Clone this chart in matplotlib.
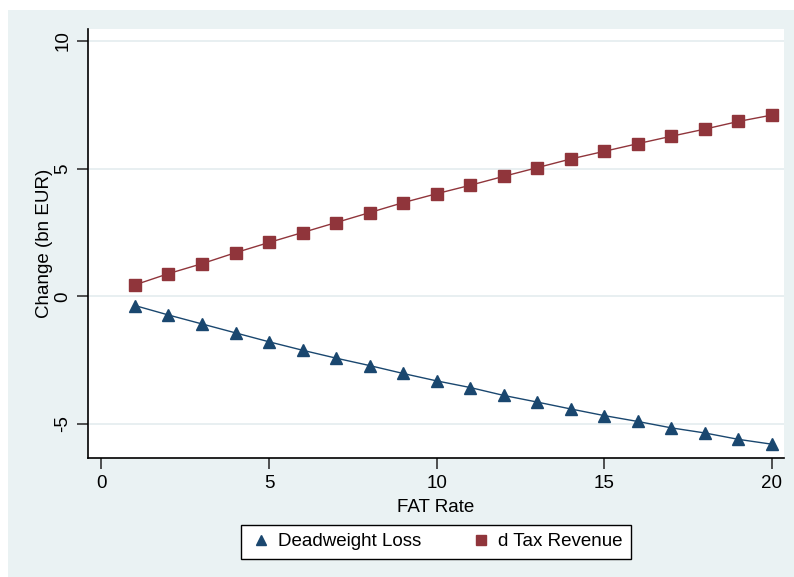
import matplotlib
matplotlib.use("Agg")
import matplotlib.pyplot as plt
from matplotlib.lines import Line2D
from matplotlib.patches import Rectangle

plt.rcParams['font.family'] = ['Liberation Sans', 'DejaVu Sans']

# values
fat_rate = list(range(1, 21))
deadweight_loss = [-0.36, -0.73, -1.08, -1.43, -1.78, -2.11, -2.42, -2.71, -3.02, -3.31,
                   -3.57, -3.88, -4.14, -4.41, -4.67, -4.90, -5.15, -5.35, -5.60, -5.79]
tax_revenue = [0.45, 0.89, 1.28, 1.71, 2.11, 2.50, 2.89, 3.28, 3.67, 4.02,
               4.35, 4.70, 5.04, 5.38, 5.68, 5.98, 6.27, 6.55, 6.85, 7.10]
x_ticks = [0, 5, 10, 15, 20]
y_ticks = [-5, 0, 5, 10]

navy = '#1a476f'
maroon = '#90353b'
bg = '#eaf2f3'

fig = plt.figure(figsize=(7.94, 5.77), dpi=100)
fig.patch.set_facecolor('white')
# stata style graph region (white strip left and top like the crop)
fig.patches.append(Rectangle((8 / 794, 0), 1, 1 - 10 / 577, transform=fig.transFigure,
                             facecolor=bg, edgecolor='none', zorder=-10))

ax = fig.add_axes([88 / 794, 1 - 458 / 577, (784 - 88) / 794, (458 - 29) / 577])
ax.set_zorder(2)
ax.set_facecolor('white')

ax.plot(fat_rate, deadweight_loss, color=navy, lw=1.0, marker='^', markersize=9,
        markeredgecolor=navy, zorder=3)
ax.plot(fat_rate, tax_revenue, color=maroon, lw=1.0, marker='s', markersize=8,
        markeredgecolor=maroon, zorder=3)

ax.set_xlim(-0.4, 20.36)
ax.set_ylim(-6.33, 10.47)
ax.set_xticks(x_ticks)
ax.set_yticks(y_ticks)
ax.set_yticklabels([str(v) for v in y_ticks], rotation=90, va='center')
ax.grid(axis='y', color='#e6eef0', lw=1.3)
ax.set_axisbelow(True)

for side in ['top', 'right']:
    ax.spines[side].set_visible(False)
for side in ['left', 'bottom']:
    ax.spines[side].set_color('black')
    ax.spines[side].set_linewidth(1.2)

ax.tick_params(axis='both', labelsize=13.5, length=8, width=1.2, color='#333333', pad=4)

ax.set_xlabel('FAT Rate', fontsize=13.5, labelpad=5)
ax.set_ylabel('Change (bn EUR)', fontsize=13.5, labelpad=1)

handles = [
    Line2D([], [], color=navy, marker='^', linestyle='none', markersize=7),
    Line2D([], [], color=maroon, marker='s', linestyle='none', markersize=6.5),
]
leg = fig.legend(handles, ['Deadweight Loss', 'd Tax Revenue'], ncol=2,
                 loc='center', bbox_to_anchor=(436 / 794, 1 - 541.5 / 577),
                 fontsize=13.5, frameon=True, fancybox=False, framealpha=1,
                 handletextpad=0.3, columnspacing=2.6, handlelength=1.2, borderpad=0.45)
leg.set_zorder(5)
leg.get_frame().set_edgecolor('black')
leg.get_frame().set_linewidth(1.0)
leg.get_frame().set_facecolor('white')

fig.savefig('out.png', dpi=100)
